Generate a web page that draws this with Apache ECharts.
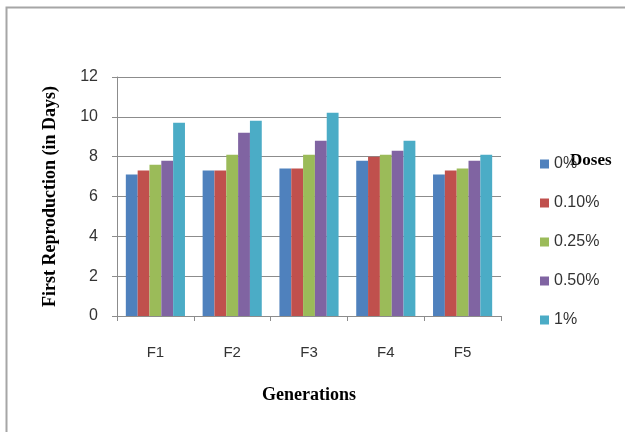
<!DOCTYPE html>
<html>
<head>
<meta charset="utf-8">
<style>
  html, body { margin: 0; padding: 0; background: #fff; }
  #chart { width: 625px; height: 432px; }
</style>
<script src="https://cdn.jsdelivr.net/npm/echarts@6/dist/echarts.min.js"></script>
</head>
<body>
<div id="chart"></div>
<script>
// Generations on the x axis, one bar per dose in each group
const generations = ['F1', 'F2', 'F3', 'F4', 'F5'];
const doseNames = ['0%', '0.10%', '0.25%', '0.50%', '1%'];

// Days to first reproduction, per dose
const dose0   = [7.1, 7.3, 7.4, 7.8, 7.1];
const dose010 = [7.3, 7.3, 7.4, 8.0, 7.3];
const dose025 = [7.6, 8.1, 8.1, 8.1, 7.4];
const dose050 = [7.8, 9.2, 8.8, 8.3, 7.8];
const dose1   = [9.7, 9.8, 10.2, 8.8, 8.1];

const yTicks = { min: 0, max: 12, interval: 2 };

const doseValues = [dose0, dose010, dose025, dose050, dose1];
const colors = ['#4F81BD', '#C0504D', '#9BBB59', '#8064A2', '#4BACC6'];

const sansFont = '"Liberation Sans", Arial, sans-serif';
const serifFont = '"Liberation Serif", "Times New Roman", serif';

const chart = echarts.init(document.getElementById('chart'), null, { renderer: 'canvas' });

chart.setOption({
  animation: false,
  backgroundColor: '#ffffff',
  color: colors,
  graphic: [
    {
      type: 'rect',
      shape: { x: 6.5, y: 7.5, width: 640, height: 450 },
      style: { fill: 'none', stroke: '#a6a6a6', lineWidth: 2 },
      silent: true
    },
    {
      type: 'text',
      left: 570,
      top: 152,
      style: {
        text: 'Doses',
        font: 'bold 17px ' + serifFont,
        fill: '#000'
      }
    }
  ],
  legend: {
    orient: 'vertical',
    left: 535,
    top: 151,
    itemWidth: 9,
    itemHeight: 9,
    itemGap: 23,
    icon: 'rect',
    textStyle: { fontFamily: sansFont, fontSize: 16, color: '#333', padding: [0, 0, 0, 0] },
    data: doseNames
  },
  grid: {
    left: 117,
    top: 77,
    width: 384,
    height: 239
  },
  xAxis: {
    type: 'category',
    data: generations,
    name: 'Generations',
    nameLocation: 'middle',
    nameGap: 70,
    nameTextStyle: { fontFamily: serifFont, fontWeight: 'bold', fontSize: 18, color: '#000' },
    axisLine: { lineStyle: { color: '#8c8c8c', width: 1 } },
    axisTick: { show: true, length: 5, alignWithLabel: false, lineStyle: { color: '#8c8c8c' } },
    axisLabel: { fontFamily: sansFont, fontSize: 15, color: '#333', margin: 29 }
  },
  yAxis: {
    type: 'value',
    min: yTicks.min,
    max: yTicks.max,
    interval: yTicks.interval,
    name: 'First Reproduction (in Days)',
    nameLocation: 'middle',
    nameGap: 58,
    nameTextStyle: { fontFamily: serifFont, fontWeight: 'bold', fontSize: 18, color: '#000' },
    axisLine: { show: true, lineStyle: { color: '#8c8c8c', width: 1 } },
    axisTick: { show: true, length: 5, lineStyle: { color: '#8c8c8c' } },
    axisLabel: { fontFamily: sansFont, fontSize: 16, color: '#333', margin: 19 },
    splitLine: { show: true, lineStyle: { color: '#8c8c8c', width: 1 } }
  },
  series: doseNames.map((name, i) => ({
    name: name,
    type: 'bar',
    data: doseValues[i],
    barGap: '0%',
    barCategoryGap: '23%',
    itemStyle: { color: colors[i] }
  }))
});
</script>
</body>
</html>
